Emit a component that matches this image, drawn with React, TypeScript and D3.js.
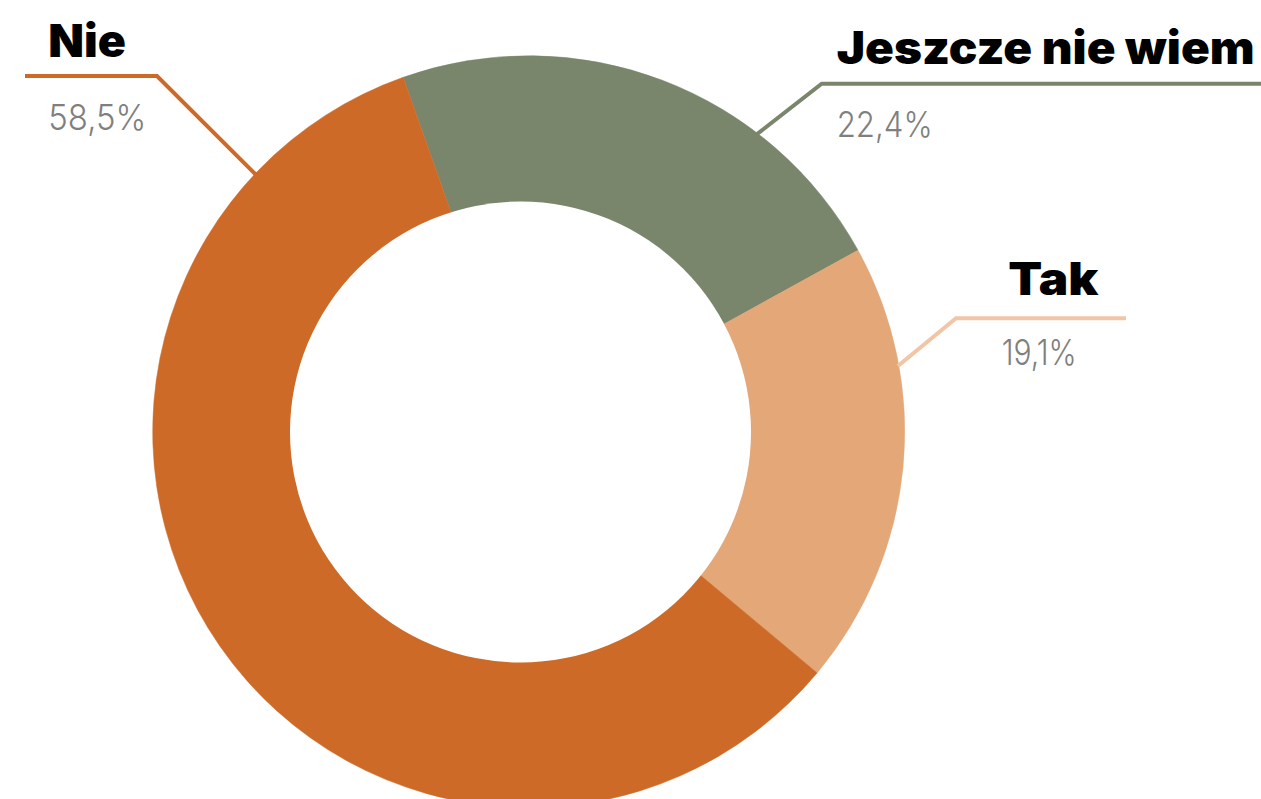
import React from "react";
import * as d3 from "d3";

// ---- data ----
const categories = ["Jeszcze nie wiem", "Tak", "Nie"];
const values = [22.4, 19.1, 58.5];
const valueLabels = ["22,4%", "19,1%", "58,5%"];
const sliceColors = ["#7A866B", "#E3A778", "#CD6A28"];
const leaderColors = ["#7A866B", "#F2C5A6", "#CD6A28"];

// ---- layout ----
const W = 1261;
const H = 799;
const CX = 528.7;
const CY = 431.7;
const R_OUT = 376;
const HOLE = { cx: 520.5, cy: 432, r: 230.5 };
const START_DEG = -19.5;

const labelLayout = [
  { anchorDeg: 37.5, elbow: [821.7, 83.7], endX: 1261, name: { x: 836.7, y: 64, w: 418 }, val: { x: 836.7, y: 136.7, w: 96 } },
  { anchorDeg: 79.9, elbow: [956, 318.3], endX: 1126, name: { x: 1008.3, y: 295, w: 90 }, val: { x: 1001.7, y: 365, w: 75 } },
  { anchorDeg: -46.7, elbow: [157, 76], endX: 25, name: { x: 48.3, y: 56.7, w: 77.7 }, val: { x: 48.3, y: 130, w: 98 } },
];

export default function App() {
  const start = (START_DEG * Math.PI) / 180;
  const pie = d3
    .pie<number>()
    .sort(null)
    .startAngle(start)
    .endAngle(start + 2 * Math.PI);
  const arcs = pie(values);
  const arc = d3.arc<d3.PieArcDatum<number>>().innerRadius(218).outerRadius(R_OUT);

  return (
    <svg
      width={W}
      height={H}
      style={{ position: "absolute", left: 0, top: 0, background: "#fff" }}
    >
      <g transform={`translate(${CX},${CY})`}>
        {arcs.map((a, i) => (
          <path key={i} d={arc(a) || ""} fill={sliceColors[i]} stroke={sliceColors[i]} strokeWidth={0.5} />
        ))}
      </g>
      <circle cx={HOLE.cx} cy={HOLE.cy} r={HOLE.r} fill="#fff" />
      {categories.map((c, i) => {
        const L = labelLayout[i];
        const ang = (L.anchorDeg * Math.PI) / 180;
        const ax = CX + (R_OUT - 1) * Math.sin(ang);
        const ay = CY - (R_OUT - 1) * Math.cos(ang);
        const pts: [number, number][] = [
          [ax, ay],
          [L.elbow[0], L.elbow[1]],
          [L.endX, L.elbow[1]],
        ];
        const line = d3.line()(pts) || "";
        return (
          <g key={c}>
            <path d={line} fill="none" stroke={leaderColors[i]} strokeWidth={4} strokeLinejoin="miter" />
            <text
              x={L.name.x}
              y={L.name.y}
              fontFamily="Inter, 'Open Sans', sans-serif"
              fontWeight={900}
              fontSize={45}
              fill="#000"
              textLength={L.name.w}
              lengthAdjust="spacingAndGlyphs"
            >
              {c}
            </text>
            <text
              x={L.val.x}
              y={L.val.y}
              fontFamily="Inter, 'Open Sans', sans-serif"
              fontWeight={300}
              fontSize={36}
              fill="#7f7f7f"
              textLength={L.val.w}
              lengthAdjust="spacingAndGlyphs"
            >
              {valueLabels[i]}
            </text>
          </g>
        );
      })}
    </svg>
  );
}
